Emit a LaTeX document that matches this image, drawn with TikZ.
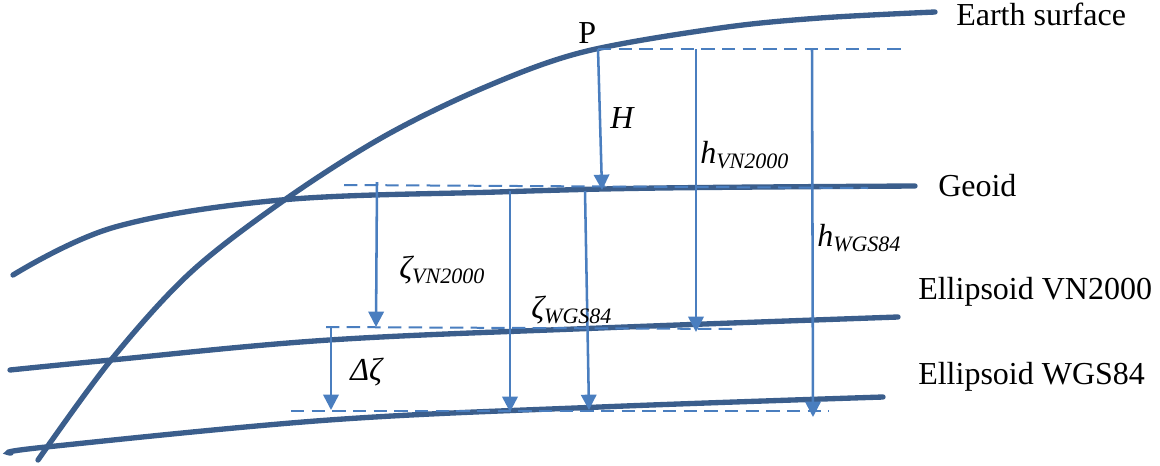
\documentclass[tikz,border=0pt]{standalone}
\usepackage{fontspec}
\setmainfont{Liberation Serif}
\usetikzlibrary{arrows.meta}
\definecolor{curvecol}{RGB}{59,94,140}
\definecolor{arrcol}{RGB}{74,126,191}
\newcommand\mylab[2]{{\fontsize{24}{24}\selectfont\itshape #1}\raisebox{-4pt}{\fontsize{16.5}{16.5}\selectfont\itshape #2}}
\tikzset{
  surf/.style={draw=curvecol, line width=4pt, line cap=round},
  refline/.style={draw=arrcol, line width=1.5pt, dash pattern=on 10pt off 5.5pt},
  measure/.style={draw=arrcol, line width=1.9pt, -{Triangle[length=11.5pt,width=11.5pt]}},
  txt/.style={inner sep=0pt, anchor=base west, font=\fontsize{24}{24}\selectfont},
}
\begin{document}
\begin{tikzpicture}[x=0.75pt,y=-0.75pt]
\useasboundingbox (0,0) rectangle (1160,465);
% surfaces
\draw[surf] plot[smooth, tension=0.55] coordinates {(38,460) (111,360) (190,273) (283,201) (383,137) (483,88) (583,52) (720,28) (820,18) (935,12)};
\draw[surf] plot[smooth, tension=0.6] coordinates {(13,275) (115,227) (281,200) (497,192) (660,188) (915,186)};
\draw[surf] plot[smooth, tension=0.6] coordinates {(10,370) (111,360) (329,340) (600,328) (898,317)};
\draw[surf] plot[smooth, tension=0.6] coordinates {(11,453) (46,447) (329,420) (600,407) (883,397)};
% coordinates
\coordinate (P) at (598,49);
\coordinate (topR) at (903,49);
\coordinate (gL) at (344,185);
\coordinate (gR) at (868,188);
\coordinate (vL) at (326,327);
\coordinate (vR) at (733,329);
\coordinate (wL) at (291,411);
\coordinate (wR) at (829,411);
\coordinate (Hend) at (602,190);
\coordinate (hVa) at (696,49);
\coordinate (hVb) at (696,332);
\coordinate (hWa) at (812,49);
\coordinate (hWb) at (813,417);
\coordinate (zVa) at (377,182);
\coordinate (zVb) at (376,327);
\coordinate (zWa) at (510,191);
\coordinate (zWb) at (510,412);
\coordinate (zW2a) at (585,191);
\coordinate (zW2b) at (589,410);
\coordinate (dza) at (331,327);
\coordinate (dzb) at (331,410);
% dashed reference lines
\draw[refline] (P) -- (topR);
\draw[refline] (gL) -- (gR);
\draw[refline] (vL) -- (vR);
\draw[refline] (wL) -- (wR);
% measurement arrows
\draw[measure] (P) -- (Hend);
\draw[measure] (hVa) -- (hVb);
\draw[measure] (hWa) -- (hWb);
\draw[measure] (zVa) -- (zVb);
\draw[measure] (zWa) -- (zWb);
\draw[measure] (zW2a) -- (zW2b);
\draw[measure] (dza) -- (dzb);
% labels
\node[txt] (lP) at (578,43) {P};
\node[txt] (lH) at (610,128) {\itshape H};
\node[txt] (lhV) at (700,163) {\mylab{h}{VN2000}};
\node[txt] (lhW) at (817,246) {\mylab{h}{WGS84}};
\node[txt] (lzV) at (399,278) {\mylab{ζ}{VN2000}};
\node[txt] (lzW) at (531,318) {\mylab{ζ}{WGS84}};
\node[txt] (ldz) at (350,380) {\itshape Δζ};
\node[txt] (lE) at (956,25) {Earth surface};
\node[txt] (lG) at (938,196) {Geoid};
\node[txt] (lV) at (918,299) {Ellipsoid VN2000};
\node[txt] (lW) at (918,384) {Ellipsoid WGS84};
\end{tikzpicture}
\end{document}
